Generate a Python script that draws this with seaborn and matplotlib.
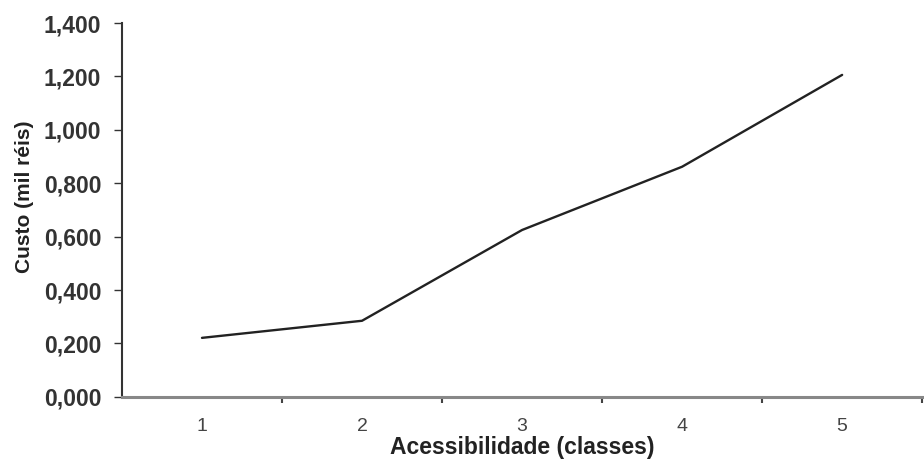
import numpy as np
import pandas as pd
import seaborn as sns
import matplotlib
matplotlib.use("Agg")
import matplotlib.pyplot as plt
from matplotlib.ticker import FixedLocator, FuncFormatter

classes = [1, 2, 3, 4, 5]
custo = [0.221, 0.285, 0.625, 0.862, 1.206]
y_ticks = [0.0, 0.2, 0.4, 0.6, 0.8, 1.0, 1.2, 1.4]

sns.set_style("white")
plt.rcParams["font.family"] = ["Liberation Sans", "DejaVu Sans"]

df = pd.DataFrame({"classe": classes, "custo": custo})

fig, ax = plt.subplots(figsize=(9.24, 4.62), dpi=100)
fig.subplots_adjust(left=0.132, right=0.998, bottom=0.141, top=0.95)

sns.lineplot(data=df, x="classe", y="custo", color="#222222", linewidth=1.7, ax=ax)

ax.set_xlim(0.5, 5.5)
ax.set_ylim(0, 1.4)

ax.set_yticks(y_ticks)
ax.yaxis.set_major_formatter(FuncFormatter(lambda v, p: f"{v:.3f}".replace(".", ",")))
ax.tick_params(axis="y", direction="out", length=6, width=1, color="#333333",
               labelsize=16.5, pad=9, left=True)
for lbl in ax.get_yticklabels():
    lbl.set_fontweight("bold")
    lbl.set_color("#333333")

ax.set_xticks(classes)
ax.set_xticklabels([str(c) for c in classes])
ax.xaxis.set_minor_locator(FixedLocator([1.5, 2.5, 3.5, 4.5, 5.5]))
ax.tick_params(axis="x", which="major", length=0, labelsize=14, pad=15, labelcolor="#444444")
ax.tick_params(axis="x", which="minor", direction="out", length=4, width=1.5,
               color="#444444", bottom=True)

ax.set_xlabel("Acessibilidade (classes)", fontsize=16.5, fontweight="bold", color="#222222", labelpad=1)
ax.set_ylabel("Custo (mil réis)", fontsize=15, fontweight="bold", color="#222222")
ax.yaxis.set_label_coords(-0.11, 0.535)

sns.despine(ax=ax)
ax.spines["left"].set_color("#333333")
ax.spines["left"].set_linewidth(1.5)
ax.spines["bottom"].set_color("#888888")
ax.spines["bottom"].set_linewidth(2.2)

plt.savefig("out.png", dpi=100)
